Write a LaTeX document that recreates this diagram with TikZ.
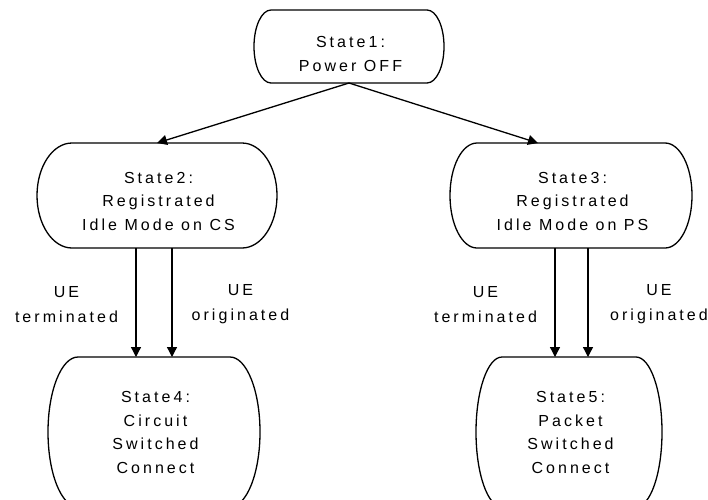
\documentclass[tikz,border=0pt]{standalone}
\usepackage{fontspec}
\setmainfont{Liberation Sans}[LetterSpace=19]
\usetikzlibrary{calc,arrows.meta}
\tikzset{
  box/.style={inner sep=0pt, outer sep=0pt},
  boxline/.style={line width=1.3pt, line join=round},
  txt/.style={inner sep=0pt, align=center, font=\fontsize{16}{23.5}\selectfont},
  lbl/.style={inner sep=0pt, align=center, font=\fontsize{16}{25}\selectfont},
  arr/.style={line width=1.3pt, -{Triangle[length=10pt,width=10pt]}}
}
\newcommand\stadiumoutline[2]{%
  \draw[boxline] let \p1=(#1.north), \p2=(#1.south), \n1={(\y1-\y2)/2} in
    ([xshift=#2]#1.north west) -- ([xshift=-#2]#1.north east)
    arc[start angle=90, end angle=-90, x radius=#2, y radius=\n1]
    -- ([xshift=#2]#1.south west)
    arc[start angle=270, end angle=90, x radius=#2, y radius=\n1] -- cycle;}
\begin{document}
\begin{tikzpicture}[x=1pt,y=1pt]
\useasboundingbox (0,0) rectangle (708,-499);
\clip (0,0) rectangle (708,-499);
% state boxes (invisible frames)
\node[box, minimum width=190pt, minimum height=73pt]  (s1) at (349,-46.5) {};
\node[box, minimum width=240pt, minimum height=105pt] (s2) at (157,-195.5) {};
\node[box, minimum width=242pt, minimum height=105pt] (s3) at (571,-195.5) {};
\node[box, minimum width=212pt, minimum height=150pt] (s4) at (154,-432) {};
\node[box, minimum width=186pt, minimum height=150pt] (s5) at (569,-432) {};
\stadiumoutline{s1}{17pt}
\stadiumoutline{s2}{35pt}
\stadiumoutline{s3}{27pt}
\stadiumoutline{s4}{30pt}
\stadiumoutline{s5}{26pt}
% texts
\node[txt] (t1) at (350.5,-54) {State1:\\Power OFF};
\node[txt] (t2) at (158.5,-201) {State2:\\Registrated\\Idle Mode on CS};
\node[txt] (t3) at (572.5,-201) {State3:\\Registrated\\Idle Mode on PS};
\node[txt] (t4) at (155.5,-432.5) {State4:\\Circuit\\Switched\\Connect};
\node[txt] (t5) at (570.5,-432.5) {State5:\\Packet\\Switched\\Connect};
% connector labels
\node[lbl] (l1) at (66.5,-304.5) {UE\\terminated};
\node[lbl] (l2) at (240.5,-304.5) {UE\\originated};
\node[lbl] (l3) at (485.5,-304.5) {UE\\terminated};
\node[lbl] (l4) at (659,-304.5) {UE\\originated};
% connectors
\draw[arr] (s1.south) -- (s2.north);
\draw[arr] (s1.south) -- ([xshift=-33pt]s3.north);
\draw[arr] ([xshift=-21pt]s2.south) -- ([xshift=-21pt]s2.south |- s4.north);
\draw[arr] ([xshift=15pt]s2.south) -- ([xshift=15pt]s2.south |- s4.north);
\draw[arr] ([xshift=-16pt]s3.south) -- ([xshift=-16pt]s3.south |- s5.north);
\draw[arr] ([xshift=17pt]s3.south) -- ([xshift=17pt]s3.south |- s5.north);
\end{tikzpicture}
\end{document}
